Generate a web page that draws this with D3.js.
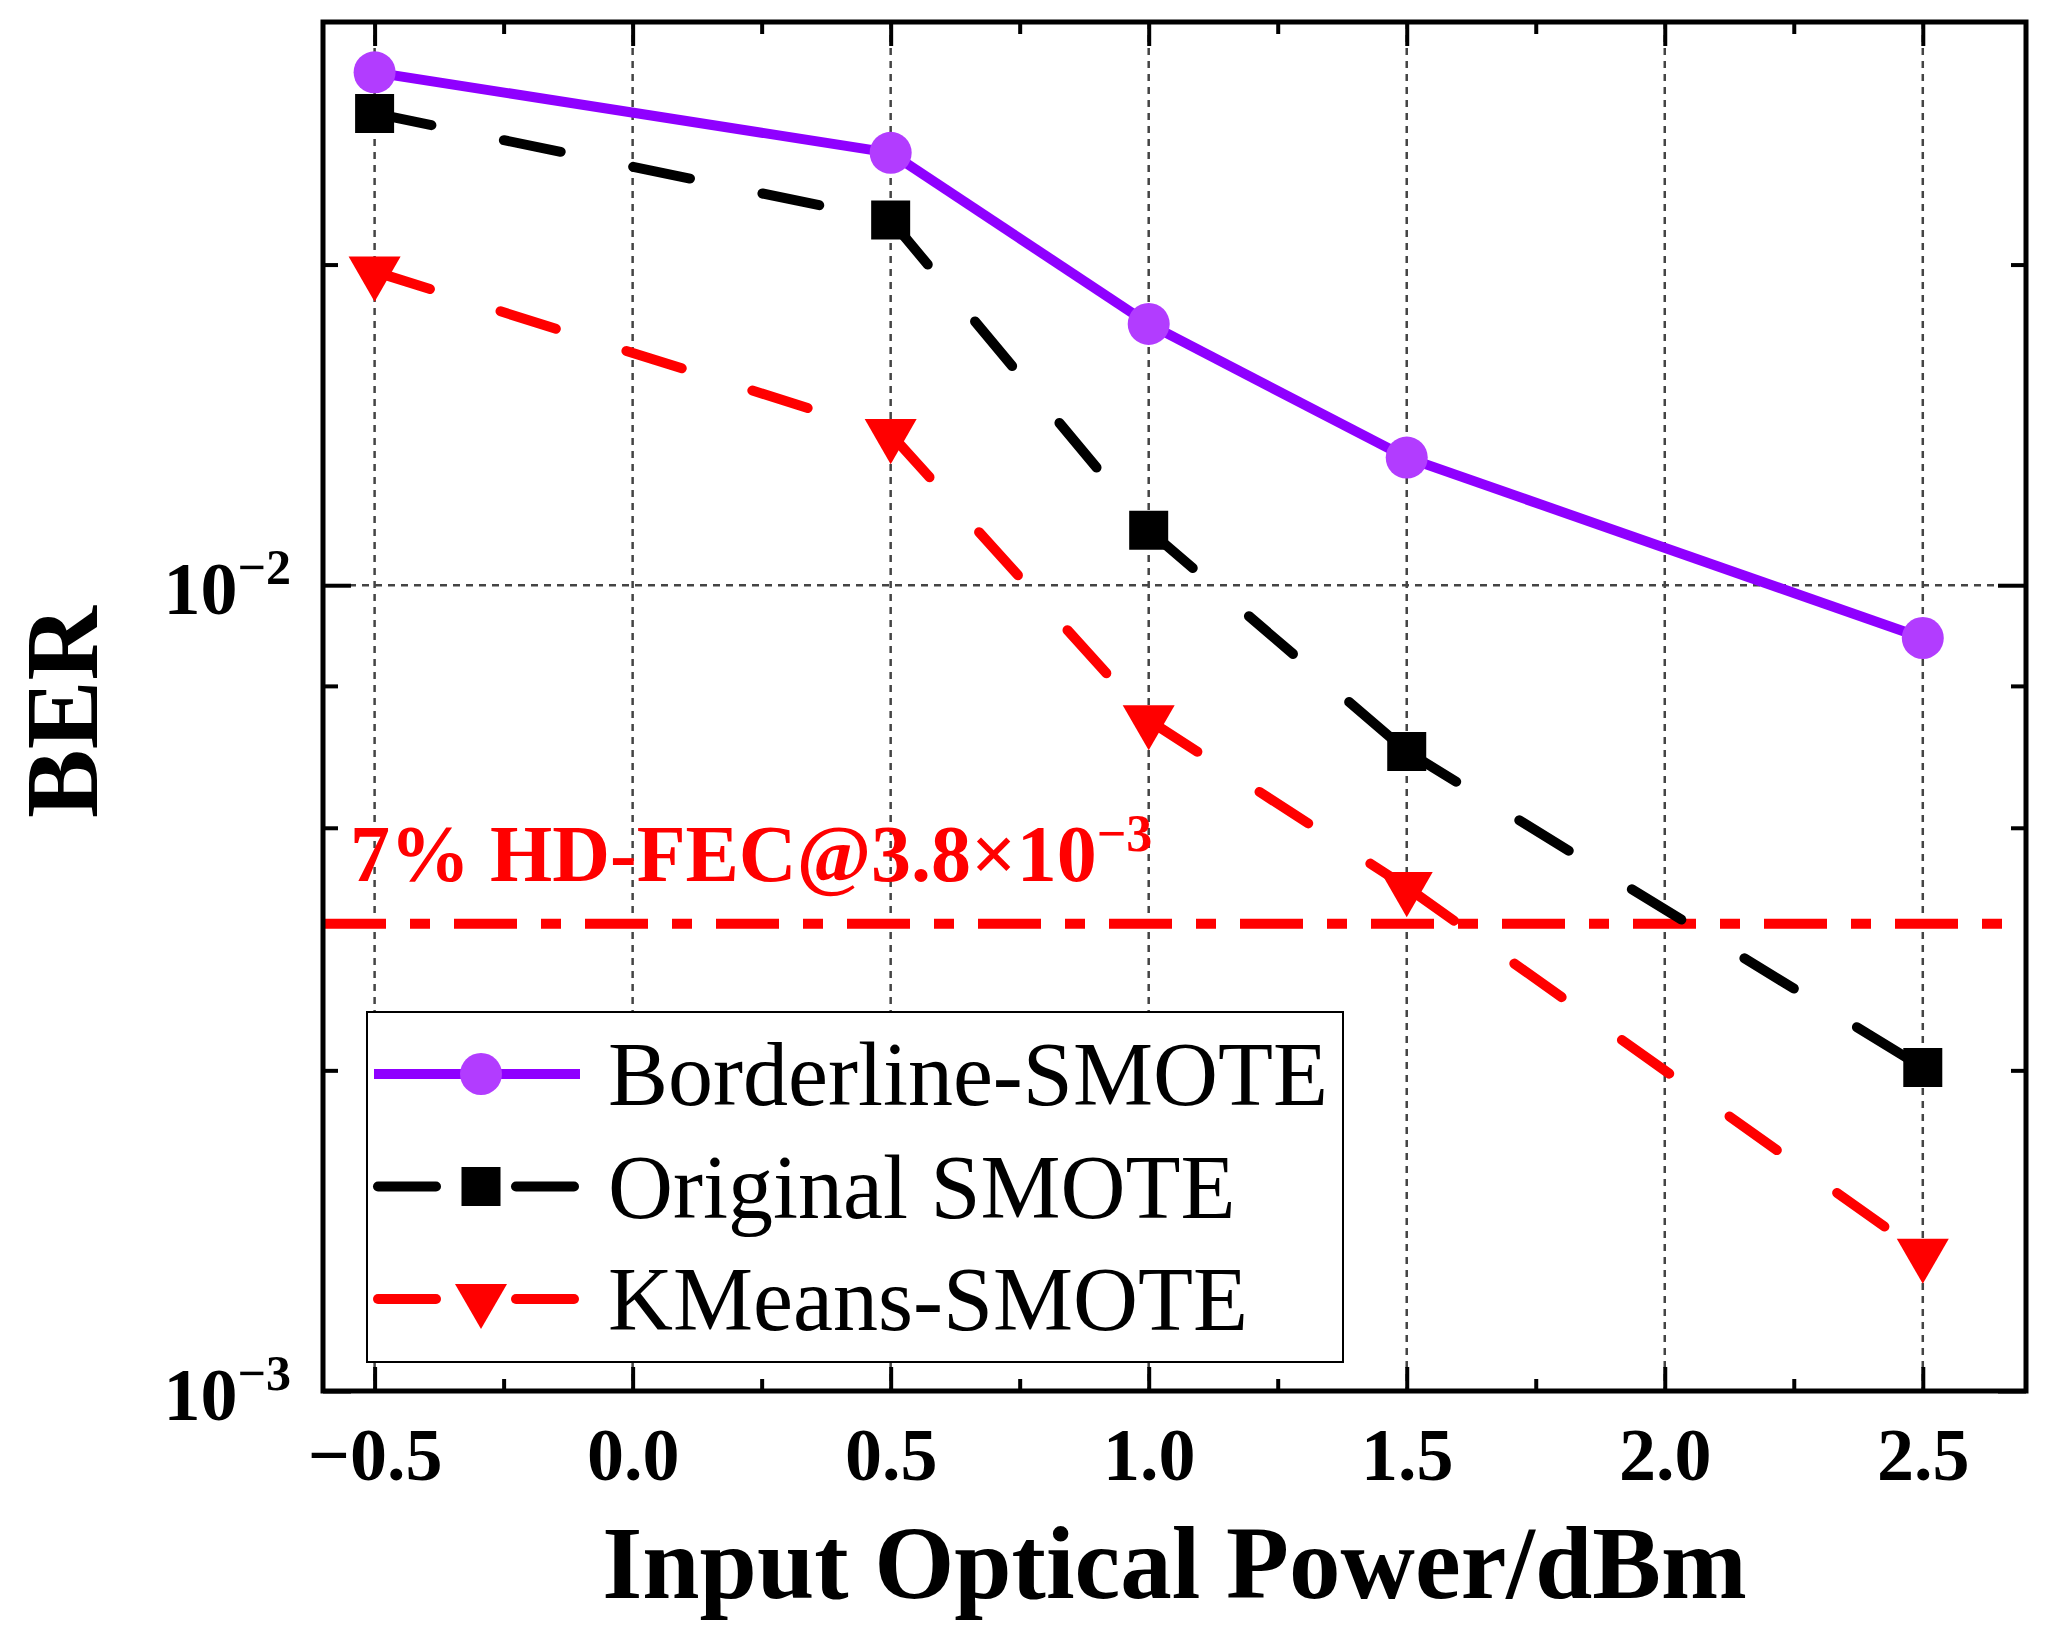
<!DOCTYPE html>
<html>
<head>
<meta charset="utf-8">
<script src="https://cdn.jsdelivr.net/npm/d3@7"></script>
<style>
  body { margin: 0; background: #fff; }
  svg { display: block; }
</style>
</head>
<body>
<div id="chart"></div>
<script>
// values
var xVals = [-0.5, 0.5, 1.0, 1.5, 2.5];
var borderlineBER = [0.0433, 0.0344, 0.0211, 0.0144, 0.0086];
var originalBER = [0.0385, 0.0284, 0.0117, 0.00622, 0.00252];
var kmeansBER = [0.0245, 0.0154, 0.0068, 0.00422, 0.00148];
var seriesNames = ['Borderline-SMOTE', 'Original SMOTE', 'KMeans-SMOTE'];

var xTickValues = [-0.5, 0, 0.5, 1, 1.5, 2, 2.5];
var xTickLabels = ['\u22120.5', '0.0', '0.5', '1.0', '1.5', '2.0', '2.5'];
var xMinorTicks = [-0.25, 0.25, 0.75, 1.25, 1.75, 2.25];
var yTickValues = [1e-3, 1e-2];
var yTickExponents = ['\u22123', '\u22122'];
var yMinorTicks = [2.5e-3, 5e-3, 7.5e-3, 2.5e-2];

var fecBER = 3.8e-3;

var svgWidth = 2050;
var svgHeight = 1636;
var margin = {top: 22, right: 24, bottom: 245, left: 323};
var width = svgWidth - margin.left - margin.right;
var height = svgHeight - margin.top - margin.bottom;

var serif = '"Times New Roman", "Liberation Serif", serif';

var xScale = d3.scaleLinear().domain([-0.6, 2.7]).range([0, width]);
var yScale = d3.scaleLog().domain([1e-3, 5e-2]).range([height, 0]);

var chart = d3.select('#chart')
  .append('svg')
  .attr('width', svgWidth)
  .attr('height', svgHeight);

var main = chart.append('g')
  .attr('transform', 'translate(' + margin.left + ',' + margin.top + ')');

// grid
main.append('g').selectAll('line')
  .data(xTickValues)
  .enter()
  .append('line')
  .attr('x1', function(d) { return xScale(d); })
  .attr('x2', function(d) { return xScale(d); })
  .attr('y1', 0)
  .attr('y2', height)
  .attr('stroke', '#444')
  .attr('stroke-width', 2.5)
  .attr('stroke-dasharray', '7,6');

main.append('line')
  .attr('x1', 0)
  .attr('x2', width)
  .attr('y1', yScale(1e-2))
  .attr('y2', yScale(1e-2))
  .attr('stroke', '#444')
  .attr('stroke-width', 2.5)
  .attr('stroke-dasharray', '7,6');

// HD-FEC threshold
main.append('line')
  .attr('x1', 0)
  .attr('x2', width)
  .attr('y1', yScale(fecBER))
  .attr('y2', yScale(fecBER))
  .attr('stroke', '#ff0000')
  .attr('stroke-width', 10)
  .attr('stroke-dasharray', '63,24,20,24');

var fecText = main.append('text')
  .attr('x', 27)
  .attr('y', yScale(fecBER) - 43)
  .attr('fill', '#ff0000')
  .attr('font-family', serif)
  .attr('font-weight', 'bold')
  .attr('font-size', 80)
  .text('7% HD-FEC@3.8\u00d710');
fecText.append('tspan')
  .attr('dy', -30)
  .attr('font-size', 52)
  .text('\u22123');

var series = [
  {name: seriesNames[0], values: borderlineBER, color: '#8f00ff', fill: '#b23cff', dash: null, symbol: d3.symbolCircle, size: Math.PI * 21 * 21, rotate: 0},
  {name: seriesNames[1], values: originalBER, color: '#000', fill: '#000', dash: '58,74', symbol: d3.symbolSquare, size: 39 * 39, rotate: 0},
  {name: seriesNames[2], values: kmeansBER, color: '#ff0000', fill: '#ff0000', dash: '58,74', symbol: d3.symbolTriangle, size: 1171, rotate: 180}
];

var line = d3.line()
  .x(function(d) { return xScale(d[0]); })
  .y(function(d) { return yScale(d[1]); });

// lines, one segment at a time so the dash restarts at every point
series.forEach(function(s) {
  var pts = xVals.map(function(x, i) { return [x, s.values[i]]; });
  var segs = d3.pairs(pts);
  main.append('g').selectAll('path')
    .data(segs)
    .enter()
    .append('path')
    .attr('d', line)
    .attr('fill', 'none')
    .attr('stroke', s.color)
    .attr('stroke-width', 10)
    .attr('stroke-linecap', s.dash ? 'round' : 'butt')
    .attr('stroke-dasharray', s.dash);
});

series.forEach(function(s) {
  main.append('g').selectAll('path')
    .data(s.values)
    .enter()
    .append('path')
    .attr('d', d3.symbol().type(s.symbol).size(s.size))
    .attr('transform', function(d, i) {
      return 'translate(' + xScale(xVals[i]) + ',' + yScale(d) + ') rotate(' + s.rotate + ')';
    })
    .attr('fill', s.fill);
});

// legend
var legend = main.append('g').attr('transform', 'translate(44,990)');
legend.append('rect')
  .attr('width', 976)
  .attr('height', 350)
  .attr('fill', '#fff')
  .attr('stroke', '#000')
  .attr('stroke-width', 2);

var rows = legend.selectAll('g.row')
  .data(series)
  .enter()
  .append('g')
  .attr('class', 'row')
  .attr('transform', function(d, i) { return 'translate(0,' + (62 + i * 112.5) + ')'; });

rows.each(function(s) {
  var g = d3.select(this);
  if (s.dash) {
    [[11, 69], [149, 207]].forEach(function(p) {
      g.append('line')
        .attr('x1', p[0]).attr('x2', p[1])
        .attr('stroke', s.color)
        .attr('stroke-width', 10)
        .attr('stroke-linecap', 'round');
    });
  } else {
    g.append('line')
      .attr('x1', 7).attr('x2', 213)
      .attr('stroke', s.color)
      .attr('stroke-width', 10);
  }
  g.append('path')
    .attr('d', d3.symbol().type(s.symbol).size(s.size))
    .attr('transform', 'translate(114,0) rotate(' + s.rotate + ')')
    .attr('fill', s.fill);
  g.append('text')
    .attr('x', 241)
    .attr('y', 31)
    .attr('font-family', serif)
    .attr('font-size', 90)
    .attr('fill', '#000')
    .text(s.name);
});

// axes
var xAxis = d3.axisBottom(xScale)
  .tickValues(xTickValues)
  .tickSize(-24)
  .tickPadding(36)
  .tickFormat(function(d, i) { return xTickLabels[i]; });

main.append('g')
  .attr('transform', 'translate(0,' + height + ')')
  .call(xAxis);

main.append('g')
  .attr('transform', 'translate(0,' + height + ')')
  .call(d3.axisBottom(xScale).tickValues(xMinorTicks).tickSize(-12).tickFormat(''));

main.append('g')
  .call(d3.axisTop(xScale).tickValues(xTickValues).tickSize(-24).tickFormat(''));
main.append('g')
  .call(d3.axisTop(xScale).tickValues(xMinorTicks).tickSize(-12).tickFormat(''));

var yAxis = d3.axisLeft(yScale)
  .tickValues(yTickValues)
  .tickSize(-28)
  .tickPadding(32)
  .tickFormat('');

var gy = main.append('g').call(yAxis);
main.append('g')
  .call(d3.axisLeft(yScale).tickValues(yMinorTicks).tickSize(-15).tickFormat(''));
main.append('g')
  .attr('transform', 'translate(' + width + ',0)')
  .call(d3.axisRight(yScale).tickValues(yTickValues).tickSize(-28).tickFormat(''));
main.append('g')
  .attr('transform', 'translate(' + width + ',0)')
  .call(d3.axisRight(yScale).tickValues(yMinorTicks).tickSize(-15).tickFormat(''));

gy.selectAll('.tick text').each(function(d, i) {
  var t = d3.select(this);
  t.attr('dy', '0.38em');
  t.append('tspan').text('10');
  t.append('tspan')
    .attr('dy', -30)
    .attr('font-size', 50)
    .text(yTickExponents[i]);
});

main.selectAll('.domain').remove();
main.selectAll('.tick line')
  .attr('stroke', '#000')
  .attr('stroke-width', 4);
main.selectAll('.tick text')
  .attr('font-family', serif)
  .attr('font-weight', 'bold')
  .attr('font-size', 74)
  .attr('fill', '#000');

// frame
main.append('rect')
  .attr('width', width)
  .attr('height', height)
  .attr('fill', 'none')
  .attr('stroke', '#000')
  .attr('stroke-width', 5);

// axis titles
chart.append('text')
  .attr('x', margin.left + width / 2)
  .attr('y', 1598)
  .attr('text-anchor', 'middle')
  .attr('font-family', serif)
  .attr('font-weight', 'bold')
  .attr('font-size', 103)
  .text('Input Optical Power/dBm');

chart.append('text')
  .attr('transform', 'translate(97,712) rotate(-90)')
  .attr('text-anchor', 'middle')
  .attr('font-family', serif)
  .attr('font-weight', 'bold')
  .attr('font-size', 103)
  .text('BER');
</script>
</body>
</html>
